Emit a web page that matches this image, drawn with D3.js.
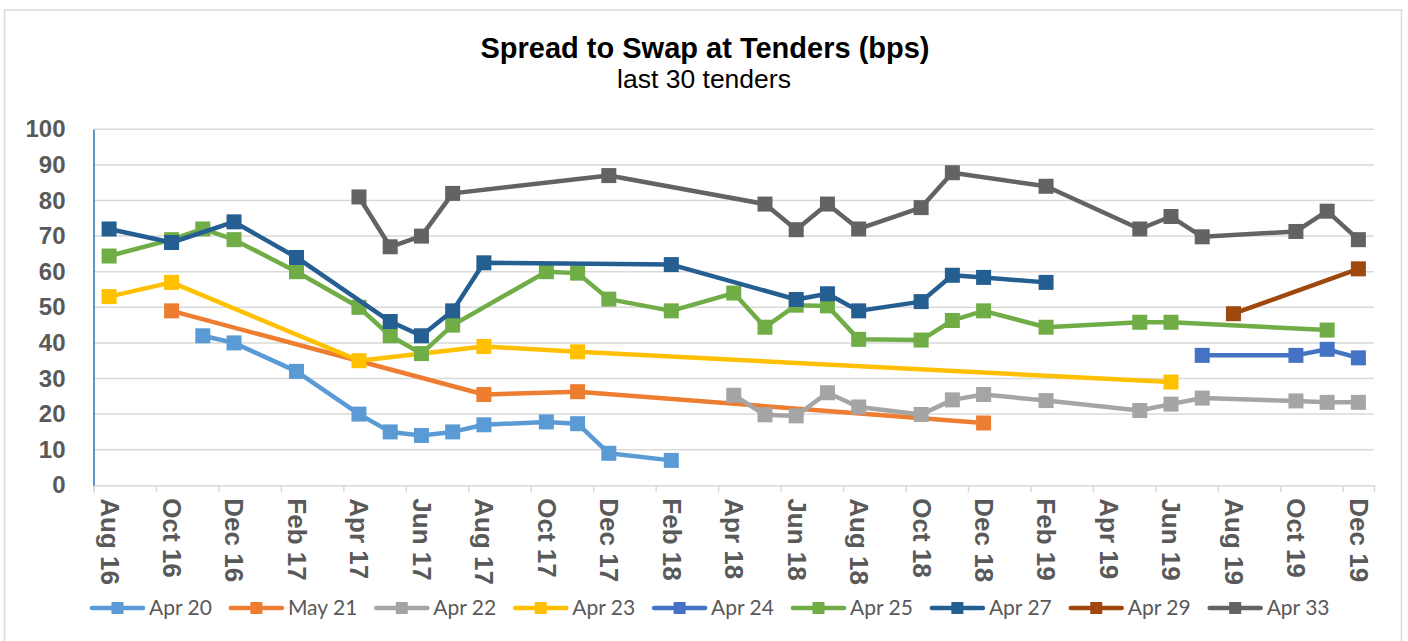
<!DOCTYPE html>
<html><head><meta charset="utf-8">
<script src="https://cdn.jsdelivr.net/npm/d3@7"></script>
<style>body{margin:0;background:#fff} svg{display:block}</style>
</head><body><svg id="c" width="1408" height="641"></svg>
<script>
const xTickLabels = ["Aug 16","Oct 16","Dec 16","Feb 17","Apr 17","Jun 17","Aug 17","Oct 17","Dec 17","Feb 18","Apr 18","Jun 18","Aug 18","Oct 18","Dec 18","Feb 19","Apr 19","Jun 19","Aug 19","Oct 19","Dec 19"];
const yTicks = [0,10,20,30,40,50,60,70,80,90,100];
const seriesNames = ["Apr 20","May 21","Apr 22","Apr 23","Apr 24","Apr 25","Apr 27","Apr 29","Apr 33"];
const seriesColors = ["#5b9bd5","#ed7d31","#a5a5a5","#ffc000","#4472c4","#70ad47","#255e91","#9e480e","#636363"];

const apr20 = [["Nov 16",42],["Dec 16",40],["Feb 17",32],["Apr 17",20],["May 17",15],["Jun 17",14],["Jul 17",15],["Aug 17",17],["Oct 17",17.8],["Nov 17",17.3],["Dec 17",9],["Feb 18",7]];
const may21 = [["Oct 16",49],["Aug 17",25.5],["Nov 17",26.3],["Dec 18",17.5]];
const apr22 = [["Apr 18",25.3],["May 18",19.8],["Jun 18",19.5],["Jul 18",26],["Aug 18",22],["Oct 18",19.9],["Nov 18",24],["Dec 18",25.5],["Feb 19",23.8],["May 19",21],["Jun 19",22.8],["Jul 19",24.5],["Oct 19",23.7],["Nov 19",23.3],["Dec 19",23.3]];
const apr23 = [["Aug 16",53],["Oct 16",57],["Apr 17",35],["Aug 17",39],["Nov 17",37.5],["Jun 19",29]];
const apr24 = [["Jul 19",36.5],["Oct 19",36.5],["Nov 19",38.2],["Dec 19",35.8]];
const apr25 = [["Aug 16",64.4],["Oct 16",69],["Nov 16",72],["Dec 16",69],["Feb 17",60],["Apr 17",50],["May 17",42],["Jun 17",37],["Jul 17",45],["Oct 17",60],["Nov 17",59.6],["Dec 17",52.3],["Feb 18",49],["Apr 18",54],["May 18",44.4],["Jun 18",50.6],["Jul 18",50.4],["Aug 18",41],["Oct 18",40.8],["Nov 18",46.3],["Dec 18",49],["Feb 19",44.4],["May 19",45.8],["Jun 19",45.8],["Nov 19",43.6]];
const apr27 = [["Aug 16",72],["Oct 16",68.2],["Dec 16",74],["Feb 17",64],["May 17",46],["Jun 17",42],["Jul 17",49],["Aug 17",62.5],["Feb 18",62],["Jun 18",52.2],["Jul 18",53.8],["Aug 18",49],["Oct 18",51.6],["Nov 18",59],["Dec 18",58.4],["Feb 19",57]];
const apr29 = [["Aug 19",48.2],["Dec 19",60.8]];
const apr33 = [["Apr 17",81],["May 17",67],["Jun 17",70],["Jul 17",82],["Dec 17",87],["May 18",79],["Jun 18",71.8],["Jul 18",79],["Aug 18",72],["Oct 18",78],["Nov 18",87.8],["Feb 19",84],["May 19",72],["Jun 19",75.5],["Jul 19",69.8],["Oct 19",71.3],["Nov 19",77],["Dec 19",69]];
const seriesData = [apr20, may21, apr22, apr23, apr24, apr25, apr27, apr29, apr33];

const svg = d3.select("#c");
const plot = {left: 93.5, right: 1374, top: 129.3, bottom: 485.3};
const parseM = d3.timeParse("%b %y");
const monthIndex = s => { const d = parseM(s); return (d.getFullYear()-2016)*12 + d.getMonth() - 7; };
const nMonths = 41;
const x = d3.scaleLinear().domain([0, nMonths]).range([plot.left, plot.right]);
const y = d3.scaleLinear().domain([0, 100]).range([plot.bottom, plot.top]);

// outer border
svg.append("rect").attr("x",4.5).attr("y",10).attr("width",1397).attr("height",640)
  .attr("fill","#fff").attr("stroke","#d9d9d9").attr("stroke-width",1.5);

// title
svg.append("text").attr("x",705).attr("y",58).attr("text-anchor","middle")
  .style("font-family","Liberation Sans, Arial, sans-serif").style("font-weight","bold").style("font-size","29px")
  .attr("fill","#000").text("Spread to Swap at Tenders (bps)");
svg.append("text").attr("x",704).attr("y",88).attr("text-anchor","middle")
  .style("font-family","Liberation Sans, Arial, sans-serif").style("font-size","26.5px")
  .attr("fill","#000").text("last 30 tenders");

// gridlines
svg.append("g").selectAll("line").data(yTicks.filter(v=>v>0)).join("line")
  .attr("x1",plot.left).attr("x2",plot.right).attr("y1",d=>y(d)).attr("y2",d=>y(d))
  .attr("stroke","#d9d9d9").attr("stroke-width",1.5);

// x axis
const xAxis = svg.append("g").attr("transform",`translate(0,${plot.bottom})`)
  .call(d3.axisBottom(x).tickValues(d3.range(0, nMonths, 2)).tickSize(7).tickFormat((d,i)=>xTickLabels[i]));
xAxis.select(".domain").attr("stroke","#d9d9d9").attr("stroke-width",1.5);
xAxis.selectAll(".tick line").attr("stroke","#d9d9d9").attr("stroke-width",1.5);
xAxis.selectAll(".tick text")
  .attr("transform",`translate(${x(0.5)-x(0)},0) rotate(90)`)
  .attr("x",13).attr("y",0).attr("dy","0.35em").attr("text-anchor","start")
  .style("font-family","Liberation Sans, Arial, sans-serif").style("font-weight","bold").style("font-size","26px")
  .attr("fill","#595959");

// y axis
const yAxis = svg.append("g").attr("transform",`translate(${plot.left},0)`)
  .call(d3.axisLeft(y).tickValues(yTicks).tickSize(0).tickPadding(28));
yAxis.select(".domain").attr("stroke","#2e75b6").attr("stroke-width",1.5);
yAxis.selectAll(".tick text")
  .style("font-family","Liberation Sans, Arial, sans-serif").style("font-weight","bold").style("font-size","24px")
  .attr("fill","#595959");

// series
const line = d3.line().x(d=>x(monthIndex(d[0])+0.5)).y(d=>y(d[1]));
const gS = svg.append("g");
seriesData.forEach((data, k) => {
  const g = gS.append("g");
  g.append("path").datum(data).attr("d", line).attr("fill","none")
    .attr("stroke", seriesColors[k]).attr("stroke-width",4.5)
    .attr("stroke-linejoin","round").attr("stroke-linecap","round");
  g.selectAll("rect").data(data).join("rect")
    .attr("x", d=>x(monthIndex(d[0])+0.5)-7.5).attr("y", d=>y(d[1])-7.5)
    .attr("width",15).attr("height",15).attr("fill", seriesColors[k]);
});

// legend
const leg = svg.append("g").attr("transform","translate(0,608)");
let lx = 90;
seriesNames.forEach((name, k) => {
  const g = leg.append("g").attr("transform",`translate(${lx},0)`);
  g.append("line").attr("x1",2).attr("x2",53).attr("y1",0).attr("y2",0)
    .attr("stroke",seriesColors[k]).attr("stroke-width",4.5).attr("stroke-linecap","round");
  g.append("rect").attr("x",21.5).attr("y",-6).attr("width",12).attr("height",12).attr("fill",seriesColors[k]);
  const t = g.append("text").attr("x",59).attr("y",0).attr("dy","0.35em")
    .style("font-family","Lato, Liberation Sans, sans-serif").style("font-size","21px")
    .attr("fill","#595959").text(name);
  lx += 59 + t.node().getComputedTextLength() + 17;
});
</script></body></html>
